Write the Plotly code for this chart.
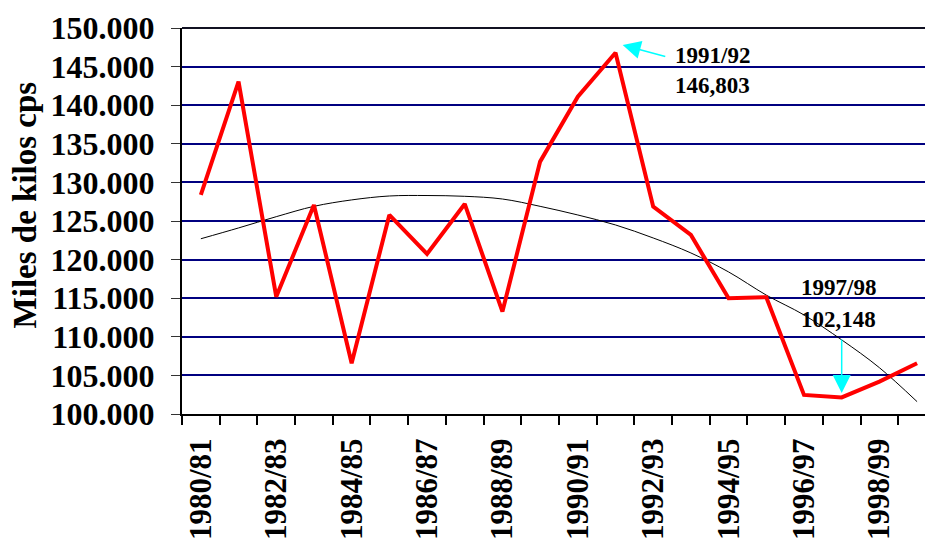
import plotly.graph_objects as go

categories = ["1980/81", "1981/82", "1982/83", "1983/84", "1984/85", "1985/86",
              "1986/87", "1987/88", "1988/89", "1989/90", "1990/91", "1991/92",
              "1992/93", "1993/94", "1994/95", "1995/96", "1996/97", "1997/98",
              "1998/99", "1999/00"]
production = [128370, 143050, 115200, 127080, 106580, 125780, 120730, 127210,
              113260, 132690, 141100, 146803, 126860, 123190, 115000, 115130,
              102470, 102148, 104200, 106580]
trend = [122700, 124100, 125560, 126900, 127730, 128240, 128300, 128200,
         127850, 126900, 125780, 124490, 122800, 120860, 118400, 115400,
         112830, 109600, 106000, 101600]
y_tickvals = [100000, 105000, 110000, 115000, 120000, 125000, 130000,
              135000, 140000, 145000, 150000]
y_ticktext = ["100.000", "105.000", "110.000", "115.000", "120.000", "125.000",
              "130.000", "135.000", "140.000", "145.000", "150.000"]
x_ticktext = [c if i % 2 == 0 else "" for i, c in enumerate(categories)]
y_title = "Miles de kilos cps"
peak_label = ["1991/92", "146,803"]
low_label = ["1997/98", "102,148"]

FONT = "Liberation Serif, Times New Roman, serif"

fig = go.Figure()
fig.add_trace(go.Scatter(x=categories, y=trend, mode="lines",
                         line=dict(color="black", width=1, shape="spline"),
                         showlegend=False, hoverinfo="skip"))
fig.add_trace(go.Scatter(x=categories, y=production, mode="lines",
                         line=dict(color="#FF0000", width=4),
                         showlegend=False))

peak_i = production.index(max(production))
low_i = production.index(min(production))

ann = []
for txt, xx, yy in [(peak_label[0], peak_i + 1.52, 146500),
                    (peak_label[1], peak_i + 1.52, 142490),
                    (low_label[0], low_i - 1.12, 116330),
                    (low_label[1], low_i - 1.12, 112190)]:
    ann.append(dict(x=xx, y=yy, xref="x", yref="y", text="<b>%s</b>" % txt,
                    showarrow=False, xanchor="left", yanchor="middle",
                    font=dict(family=FONT, size=23, color="black")))
# arrows
ann.append(dict(x=peak_i + 0.19, y=production[peak_i] + 1000, xref="x", yref="y",
                ax=peak_i + 1.36, ay=production[peak_i] - 560, axref="x", ayref="y",
                text="", showarrow=True, arrowhead=2, arrowsize=2.4, arrowwidth=1.5,
                arrowcolor="#00FFFF"))
ann.append(dict(x=low_i, y=production[low_i] + 580, xref="x", yref="y",
                ax=low_i, ay=production[low_i] + 7700, axref="x", ayref="y",
                text="", showarrow=True, arrowhead=2, arrowsize=2.4, arrowwidth=1.5,
                arrowcolor="#00FFFF"))
# y title
ann.append(dict(x=-0.211, y=0.541, xref="paper", yref="paper", text="<b>%s</b>" % y_title,
                showarrow=False, textangle=-90, xanchor="center", yanchor="middle",
                font=dict(family=FONT, size=33, color="black")))

fig.update_layout(
    width=925, height=546,
    margin=dict(l=182, r=0, t=28, b=132),
    paper_bgcolor="white", plot_bgcolor="white",
    font=dict(family=FONT, color="black"),
    annotations=ann,
    shapes=[dict(type="line", xref="paper", yref="paper", x0=0, x1=1, y0=1, y1=1,
                 line=dict(color="#111122", width=2))],
    xaxis=dict(
        type="category", categoryorder="array", categoryarray=categories,
        range=[-0.5, 19.21], tickmode="array", tickvals=categories, ticktext=x_ticktext,
        tickson="boundaries", ticks="outside", ticklen=9, tickwidth=1.5, tickcolor="black",
        tickangle=-90, ticklabelstandoff=10,
        tickfont=dict(family=FONT, size=31, color="black", weight="bold"),
        showline=True, linecolor="black", linewidth=2,
        showgrid=False, zeroline=False, automargin=False,
    ),
    yaxis=dict(
        range=[100000, 150000], tickmode="array", tickvals=y_tickvals, ticktext=y_ticktext,
        ticks="outside", ticklen=9, tickwidth=1, tickcolor="#333333",
        ticklabelstandoff=10,
        tickfont=dict(family=FONT, size=32, color="black", weight="bold"),
        showline=True, linecolor="black", linewidth=2,
        showgrid=True, gridcolor="#000080", gridwidth=1.5, zeroline=False,
        automargin=False,
    ),
)

fig.write_html("out.html",
               config={"displayModeBar": False},
               post_script="document.body.style.margin='0';"
                           "document.body.style.overflow='hidden';"
                           "document.documentElement.style.overflow='hidden';")
